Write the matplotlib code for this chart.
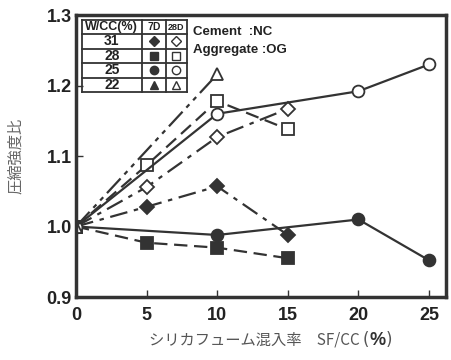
import matplotlib
matplotlib.use('Agg')
import matplotlib.pyplot as plt
from matplotlib.lines import Line2D

plt.rcParams['font.family'] = ['Liberation Sans', 'Noto Sans CJK JP', 'DejaVu Sans']

# データ (SF/CC %, 圧縮強度比)
x_31 = [0, 5, 10, 15]
y_31_7d = [1.0, 1.028, 1.057, 0.988]
y_31_28d = [1.0, 1.056, 1.127, 1.167]

x_28 = [0, 5, 10, 15]
y_28_7d = [1.0, 0.977, 0.970, 0.955]
y_28_28d = [1.0, 1.087, 1.178, 1.138]

x_25 = [0, 10, 20, 25]
y_25_7d = [1.0, 0.988, 1.010, 0.952]
y_25_28d = [1.0, 1.160, 1.192, 1.230]

x_22 = [0, 10]
y_22_28d = [1.0, 1.216]

wcc_labels = ['31', '28', '25', '22']
xticks = [0, 5, 10, 15, 20, 25]
yticks = [0.9, 1.0, 1.1, 1.2, 1.3]

col = '#333333'
dashed = (0, (6, 3))
dashdot = (0, (8, 3, 2, 3))
dashdotdot = (0, (9, 2.5, 2, 2.5, 2, 2.5))

fig = plt.figure(figsize=(4.51, 3.60), dpi=100)
ax = fig.add_axes([0.1685, 0.175, 0.8205, 0.783])

kw = dict(color=col, lw=1.6, ms=8.5, mew=1.3)
ax.plot(x_31, y_31_7d, linestyle=dashdot, marker='D', mfc=col, mec=col, **{**kw, 'ms': 7.5})
ax.plot(x_31, y_31_28d, linestyle=dashdot, marker='D', mfc='white', mec=col, **{**kw, 'ms': 7.5})
ax.plot(x_28, y_28_7d, linestyle=dashed, marker='s', mfc=col, mec=col, **kw)
ax.plot(x_28, y_28_28d, linestyle=dashed, marker='s', mfc='white', mec=col, **kw)
ax.plot(x_25, y_25_7d, linestyle='-', marker='o', mfc=col, mec=col, **kw)
ax.plot(x_25, y_25_28d, linestyle='-', marker='o', mfc='white', mec=col, **kw)
ax.plot(x_22, y_22_28d, linestyle=dashdotdot, marker='^', mfc='white', mec=col, **kw)

ax.set_xlim(0, 26.2)
ax.set_ylim(0.9, 1.3)
ax.set_xticks(xticks)
ax.set_yticks(yticks)
ax.set_xticklabels([str(t) for t in xticks], fontsize=13, fontweight='bold', color='#222222')
ax.set_yticklabels(['%.1f' % t for t in yticks], fontsize=13, fontweight='bold', color='#222222')
ax.tick_params(direction='in', length=5, width=1, color=col)
ax.tick_params(axis='x', pad=7)
ax.tick_params(axis='y', pad=3)
for s in ax.spines.values():
    s.set_linewidth(2.5)
    s.set_color('#333333')

ax.set_ylabel('圧縮強度比', fontsize=11, color='#666666', family=['Noto Sans CJK JP'], labelpad=16)

# x軸ラベル (% だけ太字)
xl_main = fig.text(0.33, 0.055, 'シリカフューム混入率　SF/CC ', fontsize=11, color='#555555',
                   family=['Noto Sans CJK JP', 'DejaVu Sans'], ha='left', va='center')
p1 = ax.annotate('(', xy=(1, 0.5), xycoords=xl_main, va='center', ha='left',
                 fontsize=12, color='#555555', family=['DejaVu Sans'])
p2 = ax.annotate('%', xy=(1, 0.5), xycoords=p1, va='center', ha='left',
                 fontsize=13, fontweight='bold', color='#333333', family=['Liberation Sans'])
ax.annotate(')', xy=(1, 0.5), xycoords=p2, va='center', ha='left',
            fontsize=12, color='#555555', family=['DejaVu Sans'])

# 凡例の表
tr = ax.transAxes
xl, xc1, xc2, xr = 0.016, 0.178, 0.243, 0.30
yt, yh = 0.982, 0.933
yb = 0.727
rh = (yh - yb) / 4
lkw = dict(transform=tr, color='#333333', lw=1.3, clip_on=False)
for xx in (xl, xc1, xc2, xr):
    ax.add_line(Line2D([xx, xx], [yb, yt], **lkw))
for yy in [yt, yh] + [yh - rh * (i + 1) for i in range(4)]:
    ax.add_line(Line2D([xl, xr], [yy, yy], **lkw))
ax.text((xl + xc1) / 2, (yt + yh) / 2, 'W/CC(%)', transform=tr, ha='center', va='center',
        fontsize=9, fontweight='bold', color='#222222')
ax.text((xc1 + xc2) / 2, (yt + yh) / 2, '7D', transform=tr, ha='center', va='center',
        fontsize=7.5, fontweight='bold', color='#222222')
ax.text((xc2 + xr) / 2, (yt + yh) / 2, '28D', transform=tr, ha='center', va='center',
        fontsize=6.5, fontweight='bold', color='#222222')
leg_markers = ['D', 's', 'o', '^']
for i, (lab, mk) in enumerate(zip(wcc_labels, leg_markers)):
    yy = yh - rh * (i + 0.5)
    ax.text((xl + xc1) / 2, yy, lab, transform=tr, ha='center', va='center',
            fontsize=10, fontweight='bold', color='#222222')
    ax.plot([(xc1 + xc2) / 2], [yy], marker=mk, ms=6 if mk != 'D' else 5.5, color=col,
            mfc=col, transform=tr, clip_on=False)
    ax.plot([(xc2 + xr) / 2], [yy], marker=mk, ms=6 if mk != 'D' else 5.5, color=col,
            mfc='white', mew=1, transform=tr, clip_on=False)

ax.text(0.315, 0.94, 'Cement  :NC', transform=tr, ha='left', va='center',
        fontsize=9.5, fontweight='bold', color='#222222')
ax.text(0.315, 0.875, 'Aggregate :OG', transform=tr, ha='left', va='center',
        fontsize=9.5, fontweight='bold', color='#222222')

fig.savefig('out.png', dpi=100)
